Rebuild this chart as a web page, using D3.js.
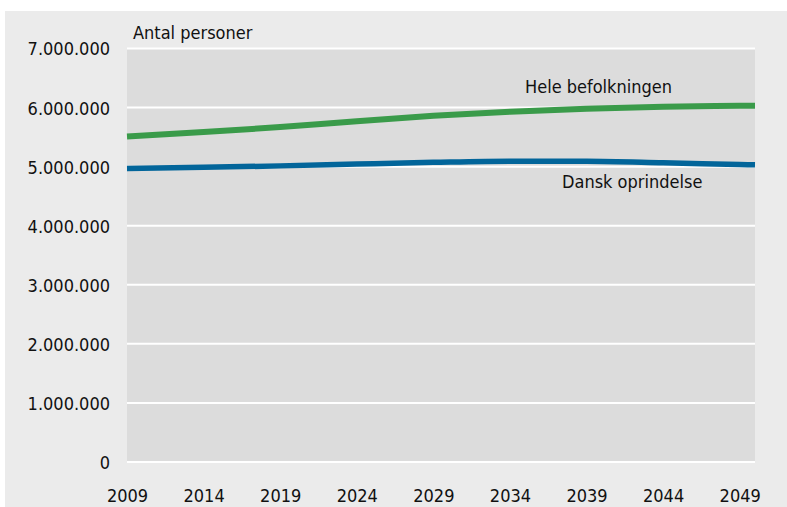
<!DOCTYPE html>
<html>
<head>
<meta charset="utf-8">
<script src="https://cdn.jsdelivr.net/npm/d3@7"></script>
<style>
  body { margin: 0; background: #fff; }
  text { font-family: "Liberation Sans Narrow", "DejaVu Sans Condensed", "Arial Narrow", sans-serif; fill: #111; }
</style>
</head>
<body>
<div id="vis"></div>
<script>
// data (persons)
const years = [2009, 2014, 2019, 2024, 2029, 2034, 2039, 2044, 2049, 2050];
const heleBefolkningen = [5510000, 5585000, 5670000, 5770000, 5860000, 5930000, 5980000, 6015000, 6030000, 6032000];
const danskOprindelse = [4970000, 4988000, 5013000, 5043000, 5073000, 5093000, 5090000, 5065000, 5035000, 5030000];
const xTicks = [2009, 2014, 2019, 2024, 2029, 2034, 2039, 2044, 2049];
const yTicks = [0, 1000000, 2000000, 3000000, 4000000, 5000000, 6000000, 7000000];

const W = 787, H = 507;
const svg = d3.select("#vis").append("svg").attr("width", W).attr("height", H);

// outer panel
svg.append("rect").attr("x", 5).attr("y", 11).attr("width", W - 5).attr("height", H - 11).attr("fill", "#ebebeb");

const margin = { top: 48.5, right: 32, bottom: 45, left: 127 };

const x = d3.scaleLinear().domain([2009, 2050]).range([margin.left, W - margin.right]);
const y = d3.scaleLinear().domain([0, 7000000]).range([H - margin.bottom, margin.top]);

// plot area
svg.append("rect")
  .attr("x", x(2009)).attr("y", y(7000000))
  .attr("width", x(2050) - x(2009)).attr("height", y(0) - y(7000000))
  .attr("fill", "#dcdcdc");

// gridlines
svg.selectAll("line.grid")
  .data(yTicks)
  .enter()
  .append("line")
    .attr("x1", x(2009)).attr("x2", x(2050))
    .attr("y1", d => y(d)).attr("y2", d => y(d))
    .attr("stroke", "#fff").attr("stroke-width", 2);

const fmt = d => d === 0 ? "0" : d3.format(",")(d).replace(/,/g, ".");

// y axis labels
svg.append("g")
  .attr("transform", "translate(" + (margin.left - 17) + ",0)")
  .call(d3.axisLeft(y).tickValues(yTicks).tickFormat(fmt).tickSize(0).tickPadding(0))
  .call(g => g.select(".domain").remove())
  .selectAll("text").attr("font-size", 18).attr("dy", "0.36em").attr("fill", "#111");

// x axis labels
svg.append("g")
  .attr("transform", "translate(0," + (y(0) + 27) + ")")
  .call(d3.axisBottom(x).tickValues(xTicks).tickFormat(d3.format("d")).tickSize(0).tickPadding(0))
  .call(g => g.select(".domain").remove())
  .selectAll("text").attr("font-size", 18).attr("dy", "0.71em").attr("fill", "#111");

const line = d3.line()
  .x((d, i) => x(years[i]))
  .y(d => y(d))
  .curve(d3.curveMonotoneX);

svg.append("path").datum(heleBefolkningen)
  .attr("d", line).attr("fill", "none")
  .attr("stroke", "#3a9b4a").attr("stroke-width", 6);

svg.append("path").datum(danskOprindelse)
  .attr("d", line).attr("fill", "none")
  .attr("stroke", "#02659a").attr("stroke-width", 5.5);

// labels
svg.append("text").attr("x", 133).attr("y", 39).attr("font-size", 18).text("Antal personer");
svg.append("text").attr("x", 525).attr("y", 93).attr("font-size", 18).text("Hele befolkningen");
svg.append("text").attr("x", 562).attr("y", 188).attr("font-size", 18).text("Dansk oprindelse");
</script>
</body>
</html>
